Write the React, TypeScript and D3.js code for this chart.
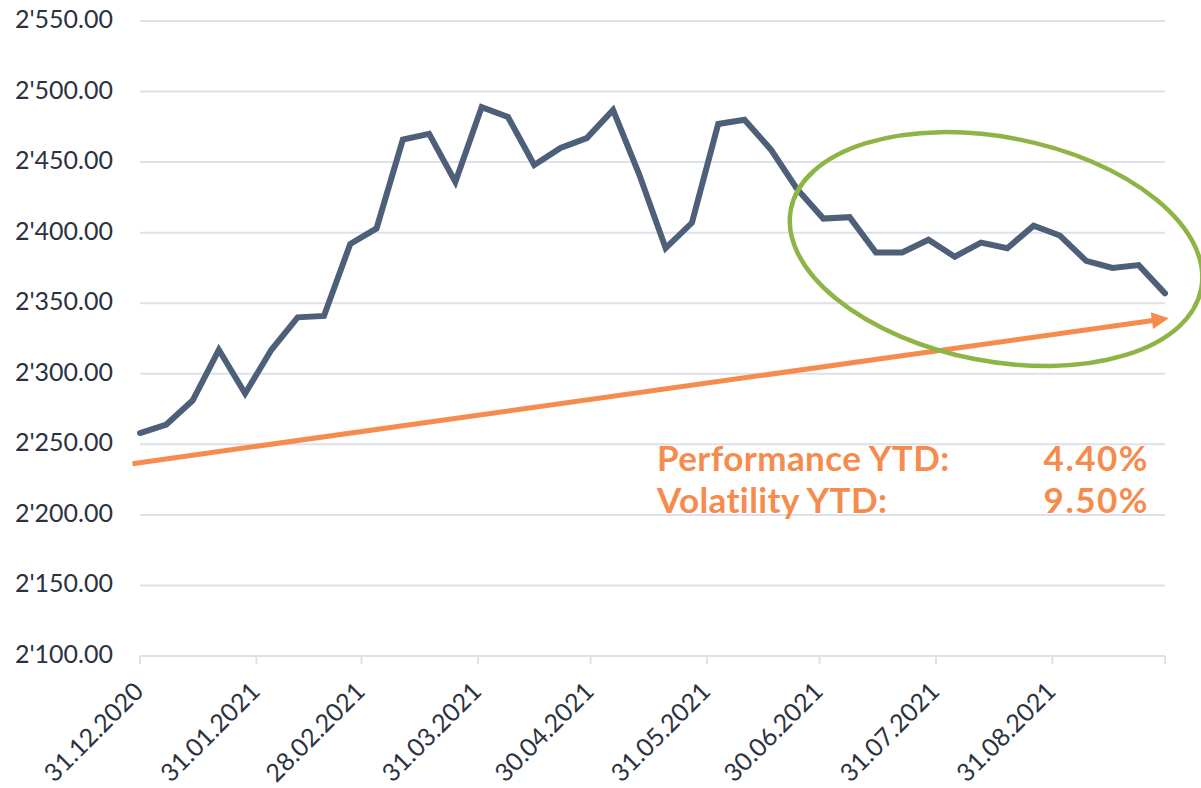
import React from 'react';
import * as d3 from 'd3';

// weekly index values, first point 31.12.2020
const startDate = '2020-12-31';
const values = [
  2258, 2264, 2281, 2317, 2286, 2317, 2340, 2341, 2392, 2403,
  2466, 2470, 2436, 2489, 2482, 2448, 2460, 2467, 2487, 2441,
  2389, 2407, 2477, 2480, 2459, 2431, 2410, 2411, 2386, 2386,
  2395, 2383, 2393, 2389, 2405, 2398, 2380, 2375, 2377, 2357,
];

const tickDates = [
  '2020-12-31', '2021-01-31', '2021-02-28', '2021-03-31', '2021-04-30',
  '2021-05-31', '2021-06-30', '2021-07-31', '2021-08-31', '2021-09-30',
];
const yTicks = [2100, 2150, 2200, 2250, 2300, 2350, 2400, 2450, 2500, 2550];

// trend arrow (start, end)
const trendDates = ['2020-12-29', '2021-10-01'];
const trendValues = [2236.3, 2339.3];

// highlight ellipse centre
const ellipseDate = '2021-08-16';
const ellipseValue = 2388.4;

const statLabels = ['Performance YTD:', 'Volatility YTD:'];
const statValues = ['4.40%', '9.50%'];

const W = 1201;
const H = 788;

const parse = d3.utcParse('%Y-%m-%d');
const fmt = d3.utcFormat('%d.%m.%Y');

const GRID = '#dde1ec';
const LINE = '#4e6079';
const ORANGE = '#f58b4c';
const GREEN = '#8db444';
const TEXT = '#2b3240';
const FONT = 'Lato, "Open Sans", sans-serif';

export default function App() {
  const start = parse(startDate)!;
  const points = values.map((v, i) => ({ date: d3.utcDay.offset(start, i * 7), value: v }));
  const ticks = tickDates.map((d) => parse(d)!);

  const x = d3.scaleUtc().domain([ticks[0], ticks[ticks.length - 1]]).range([140, 1165]);
  const y = d3.scaleLinear().domain([2100, 2550]).range([656, 21]);

  const line = d3
    .line<{ date: Date; value: number }>()
    .x((d) => x(d.date))
    .y((d) => y(d.value));

  // trend arrow geometry
  const p0 = [x(parse(trendDates[0])!), y(trendValues[0])];
  const p1 = [x(parse(trendDates[1])!), y(trendValues[1])];
  const len = Math.hypot(p1[0] - p0[0], p1[1] - p0[1]);
  const ux = (p1[0] - p0[0]) / len;
  const uy = (p1[1] - p0[1]) / len;
  const headLen = 17;
  const headHalf = 8.5;
  const bx = p1[0] - ux * headLen;
  const by = p1[1] - uy * headLen;
  const head = `M${p1[0]},${p1[1]}L${bx - uy * headHalf},${by + ux * headHalf}L${bx + uy * headHalf},${by - ux * headHalf}Z`;

  const ex = x(parse(ellipseDate)!);
  const ey = y(ellipseValue);

  return (
    <svg
      width={W}
      height={H}
      style={{ position: 'absolute', left: 0, top: 0, background: '#fff' }}
      fontFamily={FONT}
    >
      {/* grid */}
      {yTicks.map((t) => (
        <g key={t}>
          <line x1={140} x2={1165} y1={y(t)} y2={y(t)} stroke={GRID} strokeWidth={2} />
          <text x={113} y={y(t) + 7} textAnchor="end" fontSize={25} fill={TEXT}>
            {d3.format(',.2f')(t).replace(',', "'")}
          </text>
        </g>
      ))}

      {/* x ticks */}
      {ticks.map((d, i) => (
        <g key={i} transform={`translate(${x(d)},656)`}>
          <line y1={0} y2={8} stroke={GRID} strokeWidth={2} />
          {i < ticks.length - 1 && (
            <text
              transform="translate(5,37) rotate(-45)"
              textAnchor="end"
              fontSize={25}
              fill={TEXT}
            >
              {fmt(d)}
            </text>
          )}
        </g>
      ))}

      {/* trend arrow */}
      <line x1={p0[0]} y1={p0[1]} x2={bx + ux * 1} y2={by + uy * 1} stroke={ORANGE} strokeWidth={5} />
      <path d={head} fill={ORANGE} />

      {/* series */}
      <path
        d={line(points)!}
        fill="none"
        stroke={LINE}
        strokeWidth={6}
        strokeLinejoin="miter"
        strokeLinecap="round"
      />

      {/* highlight */}
      <ellipse
        cx={ex}
        cy={ey}
        rx={209}
        ry={112}
        transform={`rotate(11,${ex},${ey})`}
        fill="none"
        stroke={GREEN}
        strokeWidth={4.5}
      />

      {/* stats */}
      {statLabels.map((s, i) => (
        <g key={s} fontWeight={700} fontSize={35} fill={ORANGE}>
          <text x={657} y={471 + i * 42} letterSpacing={0.4}>{s}</text>
          <text x={1149} y={471 + i * 42} textAnchor="end" letterSpacing={1.5}>
            {statValues[i]}
          </text>
        </g>
      ))}
    </svg>
  );
}
